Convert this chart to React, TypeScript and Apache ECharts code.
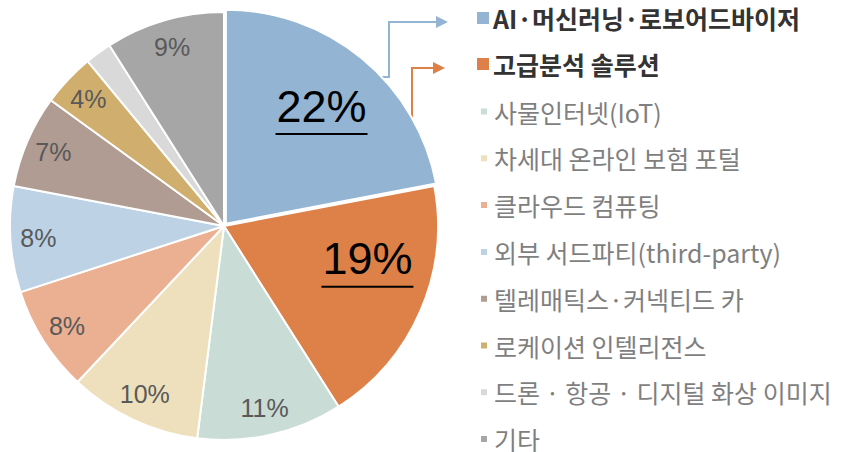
import React, { useEffect, useRef } from "react";
import * as echarts from "echarts";

const categories = [
  "AI·머신러닝·로보어드바이저",
  "고급분석 솔루션",
  "사물인터넷(IoT)",
  "차세대 온라인 보험 포털",
  "클라우드 컴퓨팅",
  "외부 서드파티(third-party)",
  "텔레매틱스·커넥티드 카",
  "로케이션 인텔리전스",
  "드론 · 항공 · 디지털 화상 이미지",
  "기타",
];
const values = [22, 19, 11, 10, 8, 8, 7, 4, 2, 9];
const colors = [
  "#93B4D3",
  "#DE8149",
  "#C9DCD6",
  "#EEE0BD",
  "#EBB092",
  "#BDD2E5",
  "#B09C92",
  "#D0AF6E",
  "#D9D9D9",
  "#A6A6A6",
];
const highlighted = [0, 1];
const hiddenLabels = [8];

export default function App() {
  const ref = useRef<HTMLDivElement>(null);
  useEffect(() => {
    document.body.style.margin = "0";
    const chart = echarts.init(ref.current!, null, { renderer: "svg" });
    const center = [224, 226];
    const R = 214;

    const mainData = categories.map((name, i) => ({
      name,
      value: values[i],
      itemStyle: { color: colors[i] },
      selected: i === 0,
    }));

    const smallLabelData = categories.map((name, i) => ({
      name,
      value: values[i],
      label: {
        show: !highlighted.includes(i) && !hiddenLabels.includes(i),
      },
    }));

    const bigLabelData = categories.map((name, i) => ({
      name,
      value: values[i],
      label: {
        show: highlighted.includes(i),
        offset: i === 1 ? [3, -23] : [0, 3],
      },
    }));

    const font = "'Liberation Sans', 'Noto Sans', sans-serif";
    const kfont = "'Noto Sans CJK KR', sans-serif";

    chart.setOption({
      animation: false,
      legend: [
        {
          orient: "vertical",
          left: 475,
          top: 5,
          padding: 0,
          itemWidth: 14,
          itemHeight: 14,
          itemGap: 20,
          icon: "rect",
          selectedMode: false,
          data: categories.slice(0, 2),
          textStyle: {
            fontFamily: kfont,
            fontSize: 25,
            fontWeight: "bold",
            color: "#333333",
            lineHeight: 26,
            padding: [0, 0, 0, -2],
          },
        },
        {
          orient: "vertical",
          left: 479,
          top: 99,
          height: 420,
          padding: 0,
          itemWidth: 8,
          itemHeight: 8,
          itemGap: 21.8,
          icon: "rect",
          selectedMode: false,
          data: categories.slice(2),
          textStyle: {
            fontFamily: kfont,
            fontSize: 25,
            color: "#7F7F7F",
            lineHeight: 22,
            padding: [0, 0, 0, 1],
          },
        },
      ],
      series: [
        {
          type: "pie",
          center,
          radius: R,
          startAngle: 90,
          clockwise: true,
          selectedMode: "single",
          selectedOffset: 3,
          silent: true,
          label: { show: false },
          labelLine: { show: false },
          itemStyle: { borderColor: "#ffffff", borderWidth: 2 },
          data: mainData,
        },
        {
          type: "pie",
          z: 5,
          center,
          radius: [100, 266],
          startAngle: 90,
          clockwise: true,
          silent: true,
          itemStyle: { color: "rgba(0,0,0,0)", borderWidth: 0 },
          labelLine: { show: false },
          label: {
            position: "inside",
            formatter: (p: any) => `${p.value}%`,
            fontFamily: font,
            fontSize: 25,
            color: "#595959",
          },
          data: smallLabelData,
        },
        {
          type: "pie",
          z: 5,
          center,
          radius: [0, 300],
          startAngle: 90,
          clockwise: true,
          silent: true,
          itemStyle: { color: "rgba(0,0,0,0)", borderWidth: 0 },
          labelLine: { show: false },
          label: {
            position: "inside",
            formatter: (p: any) => `{t|${p.value}%}\n{u|}`,
            rich: {
              t: {
                fontFamily: font,
                fontSize: 45,
                color: "#000000",
                lineHeight: 46,
              },
              u: {
                width: 92,
                height: 2,
                lineHeight: 10,
                backgroundColor: "#000000",
              },
            },
          },
          data: bigLabelData,
        },
      ],
      graphic: [
        {
          type: "polyline",
          silent: true,
          shape: {
            points: [
              [380, 77],
              [389, 77],
              [389, 22],
              [438, 22],
            ],
          },
          style: { stroke: "#93B4D3", lineWidth: 2, fill: null },
        },
        {
          type: "polygon",
          silent: true,
          shape: {
            points: [
              [436, 16],
              [448, 22],
              [436, 28],
            ],
          },
          style: { fill: "#93B4D3" },
        },
        {
          type: "polyline",
          silent: true,
          shape: {
            points: [
              [412, 122],
              [412, 68],
              [435, 68],
            ],
          },
          style: { stroke: "#DE8149", lineWidth: 2, fill: null },
        },
        {
          type: "polygon",
          silent: true,
          shape: {
            points: [
              [433, 62],
              [445, 68],
              [433, 74],
            ],
          },
          style: { fill: "#DE8149" },
        },
      ],
    });
    return () => chart.dispose();
  }, []);
  return <div ref={ref} style={{ width: 853, height: 452 }} />;
}
